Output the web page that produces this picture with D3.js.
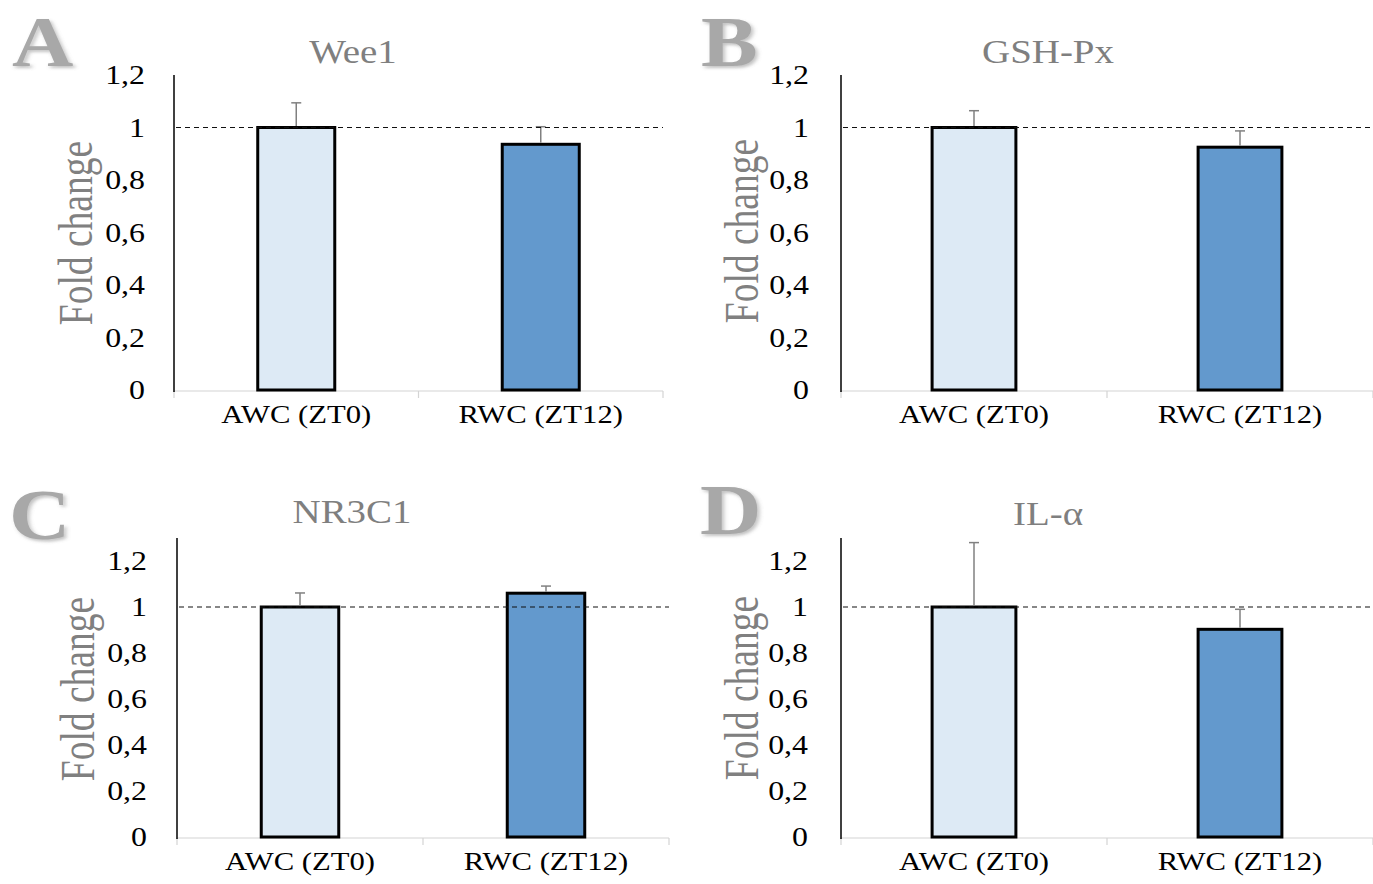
<!DOCTYPE html>
<html>
<head>
<meta charset="utf-8">
<script src="https://cdn.jsdelivr.net/npm/d3@7"></script>
<style>
  body { margin: 0; background: #fff; }
  svg { display: block; }
  text { font-family: "Liberation Serif", "Times New Roman", serif; }
</style>
</head>
<body>
<div id="chart"></div>
<script>
// values
var genes = ["Wee1", "GSH-Px", "NR3C1", "IL-α"];
var letters = ["A", "B", "C", "D"];
var groups = ["AWC (ZT0)", "RWC (ZT12)"];
var awcMean = [1, 1, 1, 1];
var awcErr = [0.094, 0.064, 0.061, 0.28];
var rwcMean = [0.936, 0.925, 1.06, 0.903];
var rwcErr = [0.067, 0.062, 0.031, 0.087];
var yMax = [1.2, 1.2, 1.3, 1.3];
var yTicks = [0, 0.2, 0.4, 0.6, 0.8, 1, 1.2];
var yTickLabels = ["0", "0,2", "0,4", "0,6", "0,8", "1", "1,2"];
var refLine = 1;

var colors = ["#ddeaf5", "#6399cd"];
var sx = 1.18; // the source picture is stretched sideways

// where each panel sits
var boxes = [
  {x0: 174, x1: 663, y0: 390, yTop: 75, title: [353, 63], letter: [12, 66], label: [145, 422], yTitle: [92, 233]},
  {x0: 841, x1: 1373, y0: 390, yTop: 75, title: [1048, 63], letter: [701, 66], label: [809, 422], yTitle: [758, 231]},
  {x0: 177, x1: 669, y0: 837, yTop: 538, title: [352, 523], letter: [9, 539], label: [147, 872], yTitle: [94, 689]},
  {x0: 841, x1: 1373, y0: 837, yTop: 538, title: [1048, 525], letter: [700, 534], label: [808, 872], yTitle: [758, 688]}
];

var svg = d3.select("#chart").append("svg")
  .attr("width", 1373).attr("height", 884);

var defs = svg.append("defs");
defs.append("filter").attr("id", "shadow")
  .attr("filterUnits", "userSpaceOnUse")
  .attr("x", -20).attr("y", -90).attr("width", 140).attr("height", 120)
  .append("feDropShadow")
  .attr("dx", 2).attr("dy", 2).attr("stdDeviation", 1.6)
  .attr("flood-color", "#777").attr("flood-opacity", 0.45);

var stretchText = function(g, x, y, str){
  return g.append("g").attr("transform", "translate(" + x + "," + y + ") scale(" + sx + ",1)")
    .append("text").text(str);
};

genes.forEach(function(gene, i){
  var b = boxes[i];
  var g = svg.append("g");

  var x = d3.scaleBand().domain(groups).range([b.x0, b.x1])
    .paddingInner(0.685).paddingOuter(0.3425);
  var y = d3.scaleLinear().domain([0, yMax[i]]).range([b.y0, b.yTop]);

  var means = [awcMean[i], rwcMean[i]];
  var errs = [awcErr[i], rwcErr[i]];
  var rows = groups.map(function(k, j){ return {key: k, mean: means[j], err: errs[j], color: colors[j]}; });

  // x baseline with ticks at the band edges
  var edges = [b.x0].concat(groups.map(function(k){ return x(k) + x.bandwidth() / 2 + x.step() / 2; }));
  g.append("line")
    .attr("x1", b.x0).attr("x2", b.x1).attr("y1", b.y0 + 1).attr("y2", b.y0 + 1)
    .attr("stroke", "#d4d4d4").attr("stroke-width", 1.2);
  g.selectAll(".xt").data(edges).enter().append("line")
    .attr("x1", function(d){ return d; }).attr("x2", function(d){ return d; })
    .attr("y1", b.y0 + 1).attr("y2", b.y0 + 8)
    .attr("stroke", "#d4d4d4").attr("stroke-width", 1.2);

  // y axis line
  g.append("line")
    .attr("x1", b.x0).attr("x2", b.x0).attr("y1", y(yMax[i])).attr("y2", b.y0 + 2)
    .attr("stroke", "#000").attr("stroke-width", 1.5);

  // y tick labels
  yTicks.forEach(function(t, k){
    stretchText(g, b.label[0], y(t), yTickLabels[k])
      .attr("text-anchor", "end").attr("dy", "0.35em")
      .attr("font-size", 27).attr("fill", "#000");
  });

  // bars
  g.selectAll(".bar").data(rows).enter().append("rect")
    .attr("x", function(d){ return x(d.key); })
    .attr("width", x.bandwidth())
    .attr("y", function(d){ return y(d.mean); })
    .attr("height", function(d){ return b.y0 - y(d.mean); })
    .attr("fill", function(d){ return d.color; })
    .attr("stroke", "#000").attr("stroke-width", 3);

  // error bars
  rows.forEach(function(d){
    var cx = x(d.key) + x.bandwidth() / 2;
    g.append("line")
      .attr("x1", cx).attr("x2", cx).attr("y1", y(d.mean) - 1.5).attr("y2", y(d.mean + d.err))
      .attr("stroke", "#808080").attr("stroke-width", 1.5);
    g.append("line")
      .attr("x1", cx - 5).attr("x2", cx + 5).attr("y1", y(d.mean + d.err)).attr("y2", y(d.mean + d.err))
      .attr("stroke", "#808080").attr("stroke-width", 1.5);
  });

  // reference line at 1
  g.append("line")
    .attr("x1", b.x0 + 2).attr("x2", b.x1).attr("y1", y(refLine)).attr("y2", y(refLine))
    .attr("stroke", "#111").attr("stroke-width", 1.2).attr("stroke-dasharray", "5,4");

  // category labels
  rows.forEach(function(d){
    stretchText(g, x(d.key) + x.bandwidth() / 2, b.y0 + 33, d.key)
      .attr("text-anchor", "middle").attr("font-size", 26).attr("fill", "#000");
  });

  // title
  stretchText(g, b.title[0], b.title[1], gene)
    .attr("text-anchor", "middle").attr("font-size", 33).attr("fill", "#7f7f7f");

  // y axis title
  g.append("g")
    .attr("transform", "translate(" + b.yTitle[0] + "," + b.yTitle[1] + ") scale(1.27,1) rotate(-90)")
    .append("text").text("Fold change")
    .attr("text-anchor", "middle").attr("font-size", 37.5).attr("fill", "#808080");

  // panel letter
  stretchText(g, b.letter[0], b.letter[1], letters[i])
    .attr("font-size", 72).attr("font-weight", "bold")
    .attr("fill", "#a8a8a8").attr("filter", "url(#shadow)");
});
</script>
</body>
</html>
